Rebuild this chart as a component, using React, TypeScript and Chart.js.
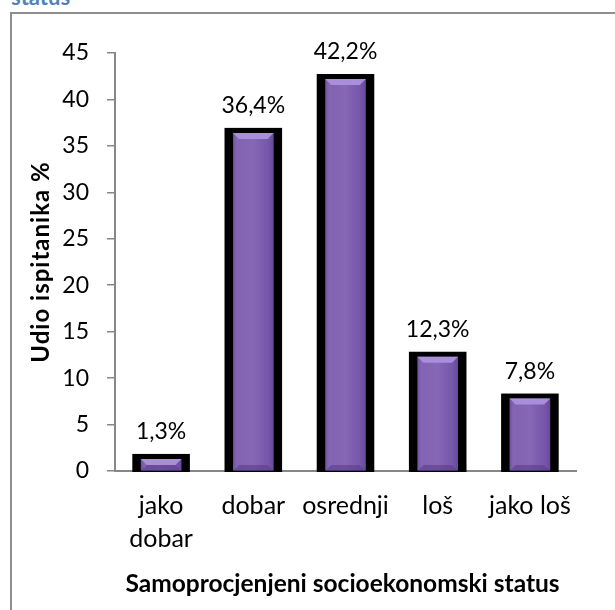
import React, { useEffect, useRef } from "react";
import { Chart, registerables } from "chart.js";

Chart.register(...registerables);

const categories: (string | string[])[] = [["jako", "dobar"], "dobar", "osrednji", "loš", "jako loš"];
const values: number[] = [1.3, 36.4, 42.2, 12.3, 7.8];
const yTicks: number[] = [0, 5, 10, 15, 20, 25, 30, 35, 40, 45];

const FONT = "Lato, 'Noto Sans', sans-serif";
const AXIS_GREY = "#878787";

const fmt = (v: number) => v.toFixed(1).replace(".", ",") + "%";

const barDecor = {
  id: "barDecor",
  beforeDatasetsDraw(chart: any) {
    const ctx = chart.ctx;
    const meta = chart.getDatasetMeta(0);
    const base = chart.scales.y.getPixelForValue(0);
    ctx.save();
    ctx.fillStyle = "#000000";
    meta.data.forEach((bar: any) => {
      const half = bar.width / 2;
      ctx.fillRect(bar.x - half - 8.5, bar.y - 5, bar.width + 17, base - bar.y + 5 + 1);
    });
    ctx.restore();
  },
  afterDatasetsDraw(chart: any) {
    const ctx = chart.ctx;
    const meta = chart.getDatasetMeta(0);
    const base = chart.scales.y.getPixelForValue(0);
    ctx.save();
    meta.data.forEach((bar: any, i: number) => {
      const l = bar.x - bar.width / 2;
      const r = bar.x + bar.width / 2;
      const t = bar.y;
      const h = base - t;
      const g = ctx.createLinearGradient(l, 0, r, 0);
      g.addColorStop(0, "rgba(60,30,100,0.25)");
      g.addColorStop(0.15, "rgba(255,255,255,0.05)");
      g.addColorStop(0.5, "rgba(255,255,255,0.08)");
      g.addColorStop(0.85, "rgba(60,30,100,0.05)");
      g.addColorStop(1, "rgba(60,30,100,0.3)");
      ctx.fillStyle = g;
      ctx.fillRect(l, t, r - l, h);
      const bev = Math.min(6, h / 2);
      ctx.fillStyle = "#a98edb";
      ctx.beginPath();
      ctx.moveTo(l, t);
      ctx.lineTo(r, t);
      ctx.lineTo(r - bev, t + bev);
      ctx.lineTo(l + bev, t + bev);
      ctx.closePath();
      ctx.fill();
      ctx.fillStyle = "rgba(90,60,140,0.6)";
      ctx.beginPath();
      ctx.moveTo(l, base);
      ctx.lineTo(r, base);
      ctx.lineTo(r - bev, base - bev);
      ctx.lineTo(l + bev, base - bev);
      ctx.closePath();
      ctx.fill();
      ctx.fillStyle = "#000";
      ctx.font = `23px ${FONT}`;
      ctx.textAlign = "center";
      ctx.textBaseline = "middle";
      ctx.fillText(fmt(values[i]), bar.x, bar.y - 27);
    });
    ctx.restore();
  },
  afterDraw(chart: any) {
    const ctx = chart.ctx;
    const ca = chart.chartArea;
    ctx.save();
    ctx.fillStyle = "#000";
    ctx.font = `bold 24.5px ${FONT}`;
    ctx.textAlign = "center";
    ctx.textBaseline = "alphabetic";
    ctx.fillText("Samoprocjenjeni socioekonomski status", (ca.left + ca.right) / 2 - 3, ca.bottom + 121);
    ctx.translate(37, (ca.top + ca.bottom) / 2);
    ctx.rotate(-Math.PI / 2);
    ctx.font = `bold 24px ${FONT}`;
    try {
      (ctx as any).letterSpacing = "1px";
    } catch (e) {}
    ctx.fillText("Udio ispitanika %", 0, 0);
    ctx.restore();
  },
};

export default function App() {
  const ref = useRef<HTMLCanvasElement | null>(null);
  useEffect(() => {
    if (!ref.current) return;
    const chart = new Chart(ref.current, {
      type: "bar",
      data: {
        labels: categories,
        datasets: [
          {
            data: values,
            backgroundColor: "#7b5bb0",
            borderWidth: 0,
            barPercentage: 0.44,
            categoryPercentage: 1,
          },
        ],
      },
      options: {
        responsive: false,
        animation: false,
        devicePixelRatio: 1,
        layout: { padding: { left: 0, right: 39, top: 39, bottom: 0 } },
        plugins: { legend: { display: false }, tooltip: { enabled: false }, title: { display: false } },
        scales: {
          x: {
            grid: { display: false, drawTicks: false },
            border: { display: true, color: AXIS_GREY, width: 2 },
            ticks: {
              color: "#000",
              font: { family: FONT, size: 25, lineHeight: 1.3 },
              padding: 19,
              maxRotation: 0,
              autoSkip: false,
            },
            afterFit: (s: any) => {
              s.height = 139;
            },
          },
          y: {
            min: 0,
            max: 45,
            afterBuildTicks: (s: any) => {
              s.ticks = yTicks.map((v) => ({ value: v }));
            },
            grid: { display: true, drawOnChartArea: false, drawTicks: true, tickLength: 8, color: AXIS_GREY, lineWidth: 1.5 },
            border: { display: true, color: AXIS_GREY, width: 2 },
            ticks: {
              color: "#000",
              font: { family: FONT, size: 23 },
              padding: 18,
            },
            afterFit: (s: any) => {
              s.width = 103;
            },
          },
        },
      },
      plugins: [barDecor],
    });
    return () => chart.destroy();
  }, []);

  return (
    <div>
      <div
        style={{
          position: "absolute",
          left: 11,
          top: -14,
          fontFamily: FONT,
          fontWeight: "bold",
          fontSize: 22,
          lineHeight: "22px",
          color: "#4f81bd",
          whiteSpace: "nowrap",
        }}
      >
        status
      </div>
      <div
        style={{
          position: "absolute",
          left: 10,
          top: 12,
          width: 640,
          height: 640,
          border: "2px solid #8e8e8e",
          boxSizing: "border-box",
          background: "#fff",
        }}
      >
        <canvas ref={ref} width={603} height={596} style={{ display: "block", width: 603, height: 596 }} />
      </div>
    </div>
  );
}
